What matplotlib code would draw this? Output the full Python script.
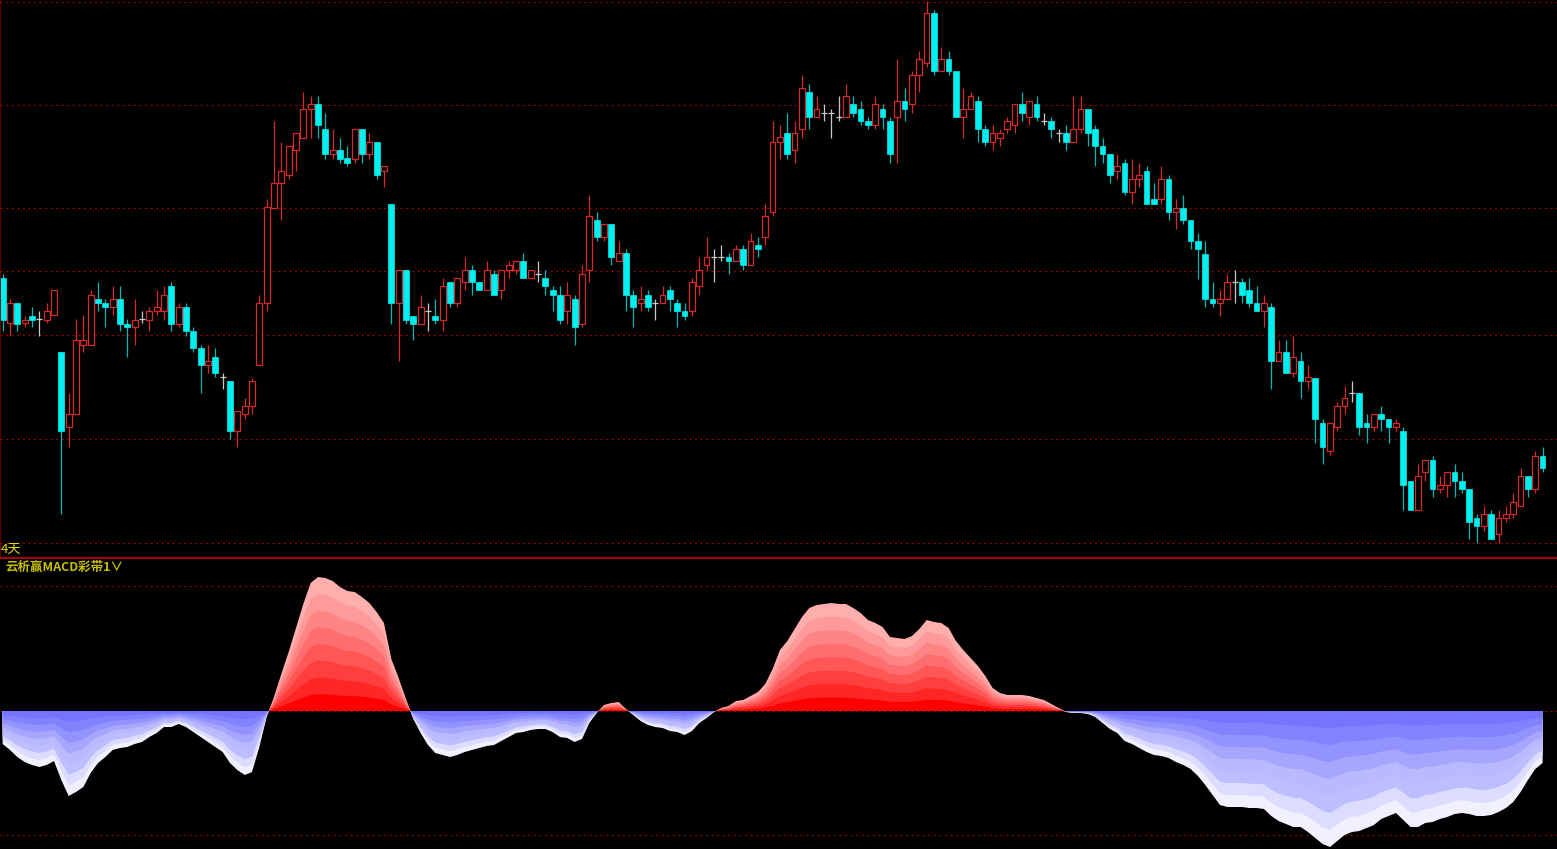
import matplotlib
matplotlib.use("Agg")
import matplotlib.pyplot as plt
import numpy as np

# price candles (arbitrary price units), one per trading day
opens = [12.22, 10.95, 11.52, 10.95, 11.16, 11.07, 11.05, 11.17, 10.13, 8.04,
         8.40, 10.35, 10.35, 11.63, 11.52, 11.40, 11.63, 10.94, 10.84, 11.07,
         11.05, 11.28, 11.28, 11.99, 10.94, 11.40, 10.72, 10.25, 9.78, 10.01,
         9.45, 9.32, 7.93, 8.40, 8.62, 9.78, 11.52, 14.19, 14.87, 15.10,
         15.80, 16.15, 16.95, 17.08, 16.38, 15.68, 15.80, 15.58, 15.56, 16.38,
         15.68, 16.03, 15.22, 14.30, 11.52, 12.45, 11.16, 10.94, 11.28, 11.16,
         11.05, 12.10, 11.52, 12.10, 12.45, 12.10, 11.87, 12.33, 11.87, 12.45,
         12.45, 12.68, 12.22, 12.33, 12.22, 11.87, 11.74, 11.28, 11.63, 10.94,
         12.45, 13.83, 13.37, 13.72, 12.68, 12.92, 11.74, 11.52, 11.74, 11.52,
         11.52, 11.87, 11.52, 11.28, 11.28, 11.99, 12.57, 12.80, 12.80, 12.80,
         12.68, 13.03, 12.57, 13.15, 13.37, 14.06, 16.03, 16.27, 15.80, 16.38,
         17.42, 16.72, 16.84, 16.84, 16.72, 16.72, 17.08, 16.95, 16.60, 16.50,
         16.95, 16.60, 16.72, 17.18, 17.08, 17.89, 18.23, 19.63, 18.00, 18.35,
         18.00, 16.72, 16.95, 17.18, 16.38, 16.03, 16.15, 16.38, 16.50, 17.08,
         16.72, 17.08, 16.60, 16.60, 16.27, 16.27, 16.03, 16.38, 16.95, 16.38,
         15.92, 15.68, 15.22, 15.45, 14.63, 15.00, 15.20, 14.42, 14.42, 15.00,
         14.06, 14.18, 13.83, 13.25, 12.90, 11.63, 11.52, 11.63, 12.10, 12.10,
         11.87, 11.52, 11.28, 11.40, 9.88, 10.13, 9.55, 9.88, 9.32, 9.42,
         8.16, 7.36, 8.04, 8.62, 9.00, 9.00, 8.16, 8.04, 8.40, 8.27,
         8.04, 7.93, 6.54, 5.72, 6.78, 7.12, 6.30, 6.42, 6.78, 6.54,
         6.30, 5.50, 5.26, 5.62, 5.04, 5.50, 5.62, 5.84, 6.66, 6.30, 7.24]
closes = [11.05, 11.52, 10.94, 11.05, 11.05, 11.07, 11.28, 11.87, 7.93, 8.40,
          10.47, 10.47, 11.74, 11.52, 11.40, 11.63, 10.94, 10.84, 11.05, 11.07,
          11.28, 11.40, 11.74, 10.94, 11.40, 10.72, 10.25, 9.78, 9.88, 9.55,
          9.45, 7.93, 8.50, 8.62, 9.32, 11.52, 14.19, 14.87, 15.20, 15.92,
          16.27, 16.95, 17.08, 16.50, 15.68, 15.80, 15.56, 15.45, 16.38, 15.68,
          16.03, 15.10, 15.34, 11.52, 12.45, 11.05, 10.94, 11.40, 11.28, 11.05,
          11.99, 11.52, 12.22, 12.45, 12.10, 11.87, 12.45, 11.74, 12.45, 12.57,
          12.68, 12.22, 12.45, 12.33, 11.99, 11.74, 11.05, 11.74, 10.84, 12.33,
          13.95, 13.37, 13.72, 12.80, 12.92, 11.74, 11.40, 11.63, 11.40, 11.52,
          11.74, 11.63, 11.28, 11.16, 12.10, 12.45, 12.80, 12.80, 12.80, 12.68,
          13.03, 12.57, 13.25, 13.03, 13.95, 16.03, 16.15, 15.68, 16.27, 17.53,
          16.72, 16.95, 16.84, 16.84, 16.72, 17.30, 16.84, 16.60, 16.50, 17.08,
          16.72, 15.68, 17.18, 16.95, 17.89, 18.35, 19.63, 18.00, 18.35, 18.00,
          16.72, 16.95, 17.30, 16.38, 16.03, 16.27, 16.27, 16.60, 17.08, 16.84,
          17.18, 16.72, 16.60, 16.38, 16.27, 16.03, 16.38, 16.95, 16.27, 15.92,
          15.68, 15.10, 15.34, 14.63, 15.00, 15.10, 14.30, 14.30, 15.00, 14.06,
          14.18, 13.83, 13.25, 13.03, 11.63, 11.52, 11.63, 12.10, 12.10, 11.74,
          11.52, 11.28, 11.52, 9.88, 10.13, 9.55, 10.01, 9.32, 9.45, 8.27,
          7.48, 8.16, 8.62, 8.85, 9.00, 8.04, 8.04, 8.40, 8.27, 8.04,
          8.16, 6.42, 5.72, 6.66, 7.12, 6.30, 6.42, 6.78, 6.54, 6.30,
          5.38, 5.26, 5.62, 4.92, 5.50, 5.62, 5.95, 6.66, 6.30, 7.24, 6.90]
highs = [12.32, 11.62, 11.52, 11.15, 11.40, 11.30, 11.52, 11.87, 10.13, 9.00,
         11.07, 11.17, 11.87, 12.10, 11.64, 12.00, 12.00, 11.07, 11.63, 11.30,
         11.40, 11.87, 12.00, 12.10, 11.52, 11.52, 10.84, 10.35, 10.35, 10.25,
         9.55, 9.32, 8.50, 8.85, 9.42, 11.74, 14.42, 16.60, 16.03, 15.92,
         16.27, 17.42, 17.30, 17.30, 16.84, 16.38, 16.15, 15.92, 16.38, 16.38,
         16.27, 16.03, 15.34, 14.30, 12.45, 12.45, 11.16, 11.74, 11.52, 11.63,
         12.22, 12.10, 12.22, 12.80, 12.57, 12.10, 12.68, 12.45, 12.45, 12.68,
         12.68, 12.92, 12.45, 12.68, 12.45, 11.99, 11.99, 12.10, 11.74, 12.57,
         14.53, 14.06, 13.72, 13.72, 13.25, 13.03, 11.87, 11.99, 11.87, 11.63,
         11.99, 11.99, 11.63, 11.52, 12.22, 12.80, 13.37, 13.03, 13.15, 12.92,
         13.15, 13.15, 13.48, 13.37, 14.30, 16.60, 16.50, 16.84, 16.60, 17.89,
         17.66, 17.30, 17.08, 16.95, 17.30, 17.66, 17.30, 17.18, 16.72, 17.30,
         17.08, 16.72, 18.35, 17.53, 18.00, 18.57, 19.97, 19.73, 18.68, 18.57,
         18.00, 17.53, 17.42, 17.30, 16.50, 16.50, 16.38, 16.72, 17.08, 17.42,
         17.18, 17.30, 16.84, 16.72, 16.38, 16.50, 17.30, 17.30, 16.95, 16.50,
         16.15, 15.68, 15.68, 15.56, 15.56, 15.45, 15.34, 14.87, 15.34, 15.10,
         14.42, 14.53, 13.83, 13.48, 13.25, 12.10, 11.87, 12.33, 12.45, 12.22,
         12.22, 11.99, 11.74, 11.52, 10.47, 10.47, 10.60, 10.13, 9.78, 9.42,
         8.27, 8.16, 8.75, 9.20, 9.32, 9.00, 8.40, 8.40, 8.62, 8.27,
         8.27, 8.04, 6.54, 7.00, 7.12, 7.24, 6.66, 6.78, 7.00, 6.78,
         6.30, 5.62, 5.84, 5.72, 5.72, 5.84, 6.20, 6.90, 6.66, 7.36, 7.48]
lows = [10.72, 10.58, 10.72, 10.84, 10.84, 10.58, 10.95, 11.17, 5.62, 7.48,
        8.40, 10.13, 10.35, 11.28, 10.84, 11.17, 10.72, 10.00, 10.35, 10.95,
        10.72, 11.17, 11.05, 10.72, 10.84, 10.58, 10.13, 9.00, 9.55, 9.45,
        9.10, 7.70, 7.48, 8.27, 8.40, 9.78, 11.30, 14.19, 13.83, 15.00,
        15.20, 16.15, 16.15, 16.15, 15.56, 15.56, 15.45, 15.34, 15.45, 15.45,
        15.56, 15.00, 14.77, 10.94, 9.88, 10.94, 10.47, 10.94, 10.72, 10.94,
        10.72, 11.40, 11.40, 11.87, 11.74, 11.87, 11.87, 11.74, 11.63, 12.22,
        12.33, 12.22, 12.22, 12.10, 11.74, 11.30, 10.94, 10.94, 10.35, 10.84,
        12.10, 13.25, 13.25, 12.57, 12.68, 11.30, 10.84, 11.28, 11.28, 11.05,
        11.52, 11.28, 10.84, 11.05, 11.16, 11.74, 12.45, 12.10, 12.68, 12.33,
        12.68, 12.45, 12.57, 12.80, 13.15, 13.95, 15.56, 15.56, 15.45, 16.15,
        16.38, 16.72, 16.60, 16.15, 16.60, 16.72, 16.72, 16.50, 16.38, 16.38,
        16.38, 15.45, 15.45, 16.60, 16.84, 17.42, 18.12, 17.89, 18.00, 17.89,
        16.72, 16.15, 16.95, 16.03, 15.92, 15.80, 15.92, 16.27, 16.27, 16.60,
        16.50, 16.60, 16.50, 16.15, 16.03, 15.80, 16.03, 16.27, 15.92, 15.34,
        15.45, 14.87, 15.00, 14.53, 14.30, 14.77, 14.30, 14.30, 14.30, 13.83,
        13.60, 13.72, 13.03, 12.20, 11.40, 11.40, 11.16, 11.63, 11.52, 11.52,
        11.40, 11.28, 10.84, 9.10, 9.88, 9.55, 9.45, 8.85, 9.10, 7.60,
        7.00, 7.25, 7.93, 8.40, 8.75, 7.82, 7.60, 7.93, 7.93, 7.60,
        7.93, 5.72, 5.72, 5.72, 6.54, 6.07, 6.20, 6.07, 6.07, 6.20,
        4.92, 4.80, 5.14, 4.92, 4.80, 5.38, 5.50, 5.84, 6.07, 6.20, 6.78]

# MACD ribbon outer value per day
macd = [-0.33, -0.39, -0.46, -0.51, -0.54, -0.56, -0.54, -0.50, -0.69, -0.85,
        -0.81, -0.76, -0.62, -0.52, -0.46, -0.39, -0.37, -0.36, -0.33, -0.31,
        -0.26, -0.22, -0.16, -0.16, -0.13, -0.16, -0.21, -0.26, -0.31, -0.36,
        -0.41, -0.52, -0.59, -0.64, -0.61, -0.36, -0.06, 0.14, 0.37, 0.59,
        0.83, 1.07, 1.28, 1.34, 1.33, 1.30, 1.24, 1.20, 1.19, 1.14,
        1.08, 0.99, 0.88, 0.52, 0.33, 0.12, -0.08, -0.22, -0.34, -0.42,
        -0.44, -0.46, -0.44, -0.41, -0.39, -0.37, -0.35, -0.34, -0.30, -0.26,
        -0.22, -0.21, -0.19, -0.18, -0.18, -0.21, -0.26, -0.27, -0.31, -0.28,
        -0.12, -0.02, 0.06, 0.08, 0.09, 0.02, -0.04, -0.10, -0.14, -0.16,
        -0.17, -0.20, -0.21, -0.24, -0.20, -0.12, -0.07, -0.01, 0.03, 0.05,
        0.10, 0.11, 0.15, 0.19, 0.27, 0.42, 0.61, 0.70, 0.82, 0.94,
        1.03, 1.06, 1.07, 1.08, 1.07, 1.07, 1.03, 0.98, 0.91, 0.88,
        0.84, 0.74, 0.73, 0.72, 0.75, 0.82, 0.91, 0.89, 0.88, 0.83,
        0.70, 0.61, 0.53, 0.45, 0.35, 0.23, 0.18, 0.16, 0.16, 0.16,
        0.15, 0.13, 0.11, 0.07, 0.03, -0.01, -0.02, -0.02, -0.03, -0.06,
        -0.12, -0.18, -0.22, -0.30, -0.33, -0.37, -0.41, -0.44, -0.45, -0.47,
        -0.51, -0.54, -0.58, -0.65, -0.74, -0.84, -0.94, -0.96, -0.96, -0.96,
        -0.97, -0.97, -0.98, -1.05, -1.10, -1.13, -1.16, -1.16, -1.21, -1.27,
        -1.33, -1.36, -1.30, -1.24, -1.21, -1.20, -1.17, -1.14, -1.08, -1.05,
        -1.02, -1.09, -1.16, -1.16, -1.12, -1.11, -1.08, -1.06, -1.03, -1.02,
        -1.03, -1.05, -1.05, -1.04, -1.01, -0.97, -0.91, -0.81, -0.69, -0.58, -0.52]

price_grid = [19.94, 17.06, 14.18, 12.41, 10.62, 7.71, 4.80]
macd_grid = [1.25, 0.0, -1.24]
red_bands = ["#FF0000", "#FF2626", "#FF3E3E", "#FF5656", "#FF6E6E", "#FF8585", "#FF9A9A", "#FFAEAE"]
blue_bands = ["#7474FF", "#8282FF", "#9393FF", "#A6A6FF", "#B9B9FF", "#BDBDFF", "#DCDCFF", "#F0F0FF"]

assert len(opens) == len(closes) == len(highs) == len(lows) == len(macd) == 211

o = np.array(opens); c = np.array(closes); h = np.array(highs); l = np.array(lows)
m = np.array(macd)
x = np.arange(len(o))

up_col = "#D42A2A"
dn_col = "#00F0F0"
dn_wick = "#00B8B8"
doji_col = "#C8C8C8"
grid_col = "#960000"

fig = plt.figure(figsize=(15.57, 8.49), dpi=100, facecolor="black")
W, H = 1557, 849
x_left = -2.67 / 7.333
x_right = (W - 2.67) / 7.333

ax1 = fig.add_axes([0, (H - 558) / H, 1, 558 / H], facecolor="black")
ax2 = fig.add_axes([0, 0, 1, 291 / H], facecolor="black")

# ---- candles
for yv in price_grid:
    ax1.axhline(yv, color=grid_col, lw=0.8, ls=(0, (2, 3)), zorder=0)

up = c > o
dn = c < o
eq = c == o
ax1.vlines(x[up], l[up], h[up], color=up_col, lw=0.9, zorder=1)
ax1.vlines(x[dn], l[dn], h[dn], color=dn_wick, lw=0.9, zorder=1)
ax1.vlines(x[eq], l[eq], h[eq], color=doji_col, lw=0.9, zorder=1)
ax1.bar(x[up], c[up] - o[up], bottom=o[up], width=0.78, facecolor="black",
        edgecolor=up_col, lw=0.9, zorder=2)
ax1.bar(x[dn], o[dn] - c[dn], bottom=c[dn], width=0.78, facecolor=dn_col,
        edgecolor=dn_col, lw=0.5, zorder=2)
ax1.hlines(c[eq], x[eq] - 0.4, x[eq] + 0.4, color=doji_col, lw=0.9, zorder=2)

ax1.set_xlim(x_left, x_right)
ax1.set_ylim(20 - 1562.4 / 100, 20.0)
ax1.set_xticks([]); ax1.set_yticks([])
for s in ["top", "right", "bottom"]:
    ax1.spines[s].set_visible(False)
ax1.spines["left"].set_color("#7A0000")
ax1.spines["left"].set_linewidth(1.2)

# ---- MACD ribbon
for yv in macd_grid:
    ax2.axhline(yv, color=grid_col, lw=0.8, ls=(0, (2, 3)), zorder=0)
n = len(red_bands)
for k in range(n, 0, -1):
    f = k / n
    ax2.fill_between(x, 0, m * f, where=m >= 0, interpolate=True,
                     color=red_bands[k - 1], lw=0, zorder=2)
    ax2.fill_between(x, 0, m * f, where=m <= 0, interpolate=True,
                     color=blue_bands[k - 1], lw=0, zorder=2)
ax2.set_xlim(x_left, x_right)
ax2.set_ylim(-1.38, 1.53)
ax2.set_xticks([]); ax2.set_yticks([])
for s in ["right", "bottom", "left"]:
    ax2.spines[s].set_visible(False)
ax2.spines["top"].set_color("#C00000")
ax2.spines["top"].set_linewidth(1.3)

fig.text(0.5 / W, 1 - 549 / H, "4天", color="#E8D800", fontsize=9.5,
         family=["Noto Sans CJK SC", "DejaVu Sans"], va="center", ha="left")
fig.text(5 / W, 1 - 567 / H, "云析赢MACD彩带1∨", color="#C8BE00", fontsize=9,
         fontweight="bold", family=["Noto Sans CJK SC", "DejaVu Sans"],
         va="center", ha="left")

fig.savefig("out.png", dpi=100, facecolor="black")
